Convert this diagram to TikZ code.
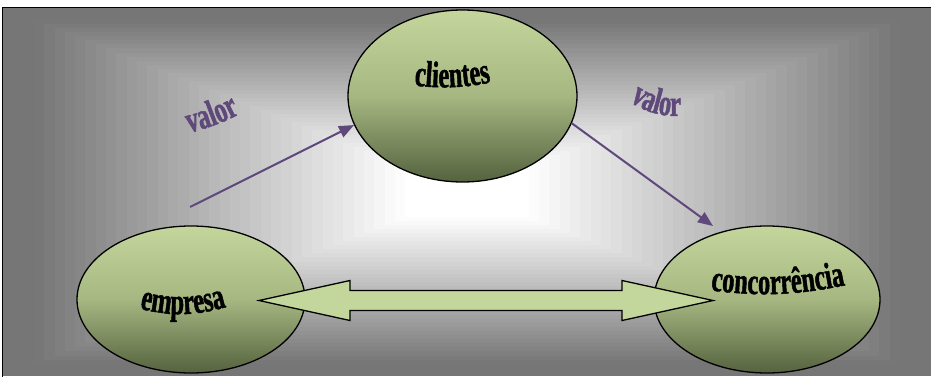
\documentclass[tikz,border=0pt]{standalone}
\usepackage{fontspec}
\newfontfamily\wafont{Liberation Serif Bold}[FakeStretch=0.66, FakeBold=1.2]
\usetikzlibrary{shapes.geometric,arrows.meta,decorations.text,calc}
\definecolor{bggray}{HTML}{767676}
\definecolor{elltop}{HTML}{C4D69C}
\definecolor{ellmid}{HTML}{A6B781}
\definecolor{ellbot}{HTML}{55623F}
\definecolor{blockgreen}{HTML}{C3D69B}
\definecolor{valpurple}{HTML}{5F497A}
\begin{document}
\begin{tikzpicture}[x=1pt,y=1pt,
  party/.style={ellipse, draw=black, line width=1.3pt, inner sep=0pt,
    top color=elltop, bottom color=ellbot, middle color=ellmid},
  flow/.style={draw=valpurple, line width=2pt, -{Triangle[length=15pt,width=12pt]}},
  link/.style={draw=black, line width=1.3pt, fill=blockgreen, line join=miter},
  wordart/.style n args={2}{decorate, decoration={text along path, text align=center,
    text={|\wafont\fontsize{37}{37}\selectfont\color{#1}|#2}}}
]
\clip (0,0) rectangle (931,376);
\fill[white] (0,0) rectangle (931,376);

% stepped rectangular gradient: grey rim fading to a white core
\foreach \i in {0,...,44} {
  \pgfmathsetmacro\t{\i/45}
  \pgfmathsetmacro\f{min(100,max(0,(\t-0.06)/0.8*100))}
  \fill[white!\f!bggray] ({3+\t*464},{\t*184}) rectangle ({931-\t*464},{368.5-\t*184.5});
}
% frame edges
\draw[line width=1.7pt] (2.5,-5) -- (2.5,368.5) -- (940,368.5);

% the three parties
\node[party, minimum width=229pt, minimum height=172pt] (cli) at (462.5,280) {};
\node[party, minimum width=228pt, minimum height=147pt] (emp) at (191,76.5) {};
\node[party, minimum width=226pt, minimum height=147pt] (con) at (767,76.5) {};

% two-headed block arrow between empresa and concorrencia
\coordinate (lt) at (259,75.5);
\coordinate (rt) at (713,75.5);
\draw[link] (lt) -- ++(91,20) -- ++(0,-10) -- ($(rt)+(-91,10)$) -- ++(0,10) -- (rt)
  -- ++(-91,-20) -- ++(0,10) -- ($(lt)+(91,-10)$) -- ++(0,-10) -- cycle;

% value flows
\coordinate (v1) at (190,169);
\coordinate (v2) at (713,150);
\draw[flow] (v1) -- (cli.195);
\draw[flow] (cli.-14) -- (v2);

% arched labels
\path[wordart={black}{clientes}] (402,292) to[bend right=10] (503,296);
\path[wordart={black}{empresa}] (130,70) to[bend right=17] (236,72);
\path[wordart={black}{concorrência}] (700,87) to[bend right=10] (856,93);
\path[wordart={valpurple}{valor}] (178,240.5) to[bend right=8] (250,267.5);
\path[wordart={valpurple}{valor}] (622,280) to[bend right=22] (690,261);
\end{tikzpicture}
\end{document}
